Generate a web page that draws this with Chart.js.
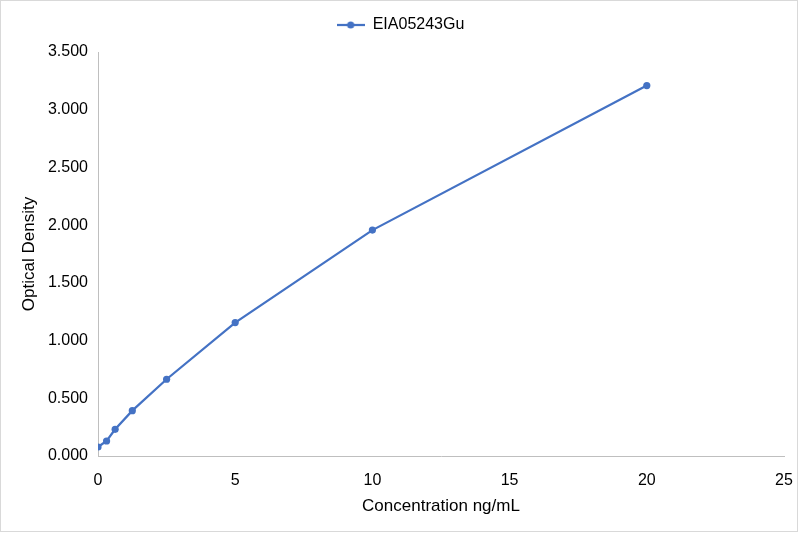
<!DOCTYPE html>
<html>
<head>
<meta charset="utf-8">
<script src="https://cdn.jsdelivr.net/npm/chart.js@4/dist/chart.umd.min.js"></script>
<style>
html, body { margin: 0; padding: 0; background: #ffffff; }
canvas { display: block; }
</style>
</head>
<body>
<canvas id="c" width="801" height="533"></canvas>
<script>
const seriesName = 'EIA05243Gu';
const concentrations = [0, 0.3125, 0.625, 1.25, 2.5, 5, 10, 20];
const opticalDensity = [0.078, 0.130, 0.231, 0.393, 0.665, 1.156, 1.957, 3.209];
const xTitle = 'Concentration ng/mL';
const yTitle = 'Optical Density';

const lineColor = '#4472C4';
const textColor = '#000000';
const axisColor = '#BFBFBF';
const fontFamily = '"Liberation Sans", Arial, sans-serif';

// legend marker: line with dot
const marker = document.createElement('canvas');
marker.width = 28; marker.height = 10;
(function () {
  const g = marker.getContext('2d');
  g.strokeStyle = lineColor; g.lineWidth = 2.25;
  g.beginPath(); g.moveTo(0, 5); g.lineTo(28, 5); g.stroke();
  g.fillStyle = lineColor;
  g.beginPath(); g.arc(14, 5, 3.6, 0, Math.PI * 2); g.fill();
})();

const frame = {
  id: 'frame',
  beforeDraw(chart) {
    const ctx = chart.ctx;
    ctx.save();
    ctx.fillStyle = '#ffffff';
    ctx.fillRect(0, 0, chart.width, chart.height);
    ctx.strokeStyle = '#D9D9D9';
    ctx.lineWidth = 1;
    ctx.strokeRect(0.5, 0.5, 797, 531);
    ctx.restore();
  }
};

const points = concentrations.map((x, i) => ({ x: x, y: opticalDensity[i] }));

new Chart(document.getElementById('c'), {
  type: 'scatter',
  data: {
    datasets: [{
      label: seriesName,
      data: points,
      showLine: true,
      borderColor: lineColor,
      backgroundColor: lineColor,
      borderWidth: 2.25,
      pointRadius: 3.6,
      pointHoverRadius: 3.6,
      pointBorderWidth: 0,
      tension: 0
    }]
  },
  options: {
    responsive: false,
    animation: false,
    devicePixelRatio: 1,
    layout: { padding: 0, autoPadding: false },
    plugins: {
      tooltip: { enabled: false },
      legend: {
        display: true,
        position: 'top',
        labels: {
          usePointStyle: true,
          pointStyleWidth: 28,
          padding: 17,
          color: textColor,
          font: { family: fontFamily, size: 16 },
          generateLabels(chart) {
            return [{
              text: seriesName,
              pointStyle: marker,
              fillStyle: lineColor,
              strokeStyle: lineColor,
              lineWidth: 0,
              hidden: false,
              datasetIndex: 0,
              fontColor: textColor
            }];
          }
        }
      }
    },
    scales: {
      x: {
        type: 'linear',
        position: 'bottom',
        min: 0, max: 25,
        grid: { display: false, drawTicks: false },
        border: { display: true, color: axisColor, width: 1 },
        ticks: { stepSize: 5, padding: 15, color: textColor, font: { family: fontFamily, size: 16 } },
        title: { display: true, text: xTitle, color: textColor, font: { family: fontFamily, size: 17 }, padding: { top: 0, bottom: 16 } },
        afterFit(s) { s.height = 77; s.paddingLeft = 0; s.paddingRight = 0; }
      },
      y: {
        type: 'linear',
        position: 'left',
        min: 0, max: 3.5,
        grid: { display: false, drawTicks: false },
        border: { display: true, color: axisColor, width: 1 },
        ticks: { stepSize: 0.5, padding: 10, color: textColor, font: { family: fontFamily, size: 16 },
          callback: v => Number(v).toFixed(3) },
        title: { display: true, text: yTitle, color: textColor, font: { family: fontFamily, size: 17 }, padding: { top: 19, bottom: 0 } },
        afterFit(s) { s.width = 98; }
      },
      xTop: {
        type: 'linear',
        position: 'top',
        display: true,
        grid: { display: false, drawTicks: false },
        border: { display: false },
        ticks: { display: false },
        afterFit(s) { s.height = 9; s.paddingLeft = 0; s.paddingRight = 0; }
      },
      yRight: {
        type: 'linear',
        position: 'right',
        display: true,
        grid: { display: false, drawTicks: false },
        border: { display: false },
        ticks: { display: false },
        afterFit(s) { s.width = 17; }
      }
    }
  },
  plugins: [frame]
});
</script>
</body>
</html>
